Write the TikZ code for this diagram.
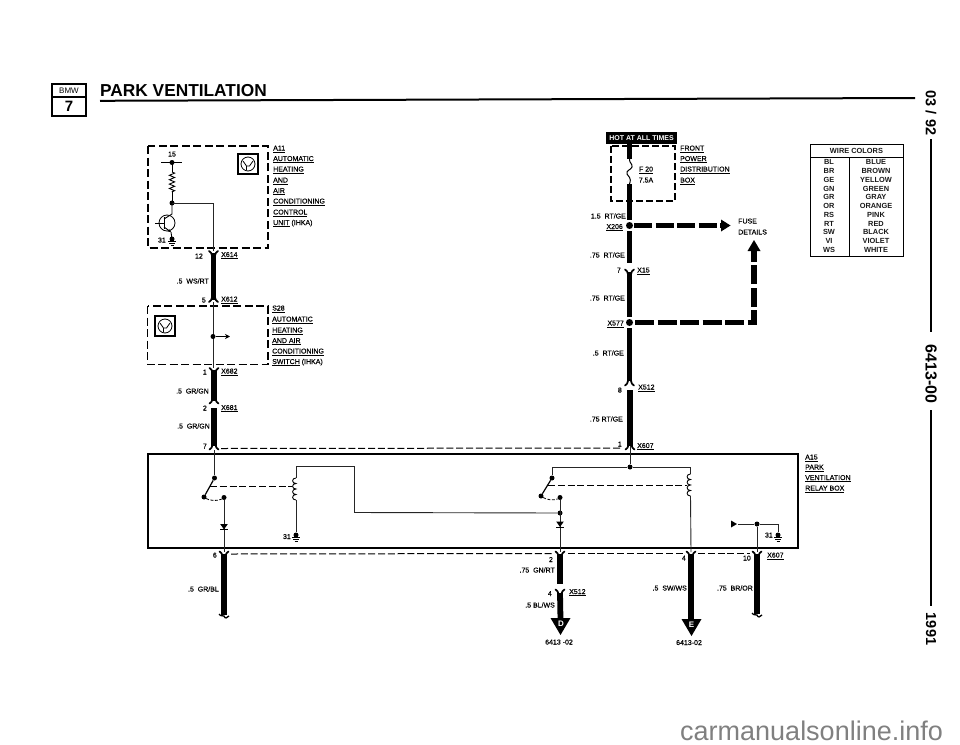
\documentclass[tikz,border=0pt]{standalone}
\usepackage{fontspec}
\setmainfont{Liberation Sans}
\newfontfamily\lblf[FakeBold=0.3]{Liberation Sans}
\usetikzlibrary{arrows.meta,decorations.pathmorphing}
\tikzset{
  wire/.style={line width=5.8pt,black},
  thin wire/.style={line width=0.9pt,black!85},
  bdash/.style={line width=1.7pt,dash pattern=on 8pt off 3.5pt,black},
  ldash/.style={line width=1pt,dash pattern=on 7pt off 2.8pt,black},
  fdash/.style={line width=5.8pt,dash pattern=on 19pt off 3.5pt,black},
  dotn/.style={circle,fill=black,inner sep=0pt,minimum size=#1},
  dotn/.default=5pt,
  lbl/.style={inner sep=0pt,font=\lblf\fontsize{7}{8}\selectfont,text=black},
  tbl/.style={inner sep=0pt,font=\fontsize{7.4}{8}\selectfont\bfseries,text=black!90},
  side/.style={inner sep=0pt,rotate=-90,font=\fontsize{#1}{#1}\selectfont\bfseries},
  forkd/.pic={\draw[line width=1.7pt,line cap=round] (-4.6,-1.6) .. controls (-3,-0.8) and (-1.6,0.8) .. (-1.2,4) (4.6,-1.6) .. controls (3,-0.8) and (1.6,0.8) .. (1.2,4);},
  forku/.pic={\draw[line width=1.7pt,line cap=round] (-4.6,1.6) .. controls (-3,0.8) and (-1.6,-0.8) .. (-1.2,-4) (4.6,1.6) .. controls (3,0.8) and (1.6,-0.8) .. (1.2,-4);},
  tailp/.pic={\draw[line width=1.3pt] (-5,-2) .. controls (-3,1) and (-1,-1) .. (0,0) .. controls (1,3) and (3,2) .. (5,0);},
  gnd/.pic={\draw[line width=0.8pt] (-4,0) -- (4,0) (-2.8,1.8) -- (2.8,1.8) (-1.5,3.5) -- (1.5,3.5);},
  hvac/.pic={\draw[line width=1.1pt] (-10,-10) rectangle (10,10);
    \draw[line width=0.8pt] (0,0) circle (7pt);
    \draw[line width=0.8pt] (-5,-3) -- (-1.5,2) -- (1.5,2) -- (5,-3) (-1.5,2) -- (-1.5,6);},
  coilp/.pic={\draw[line width=0.9pt] (0,0) .. controls (-4.5,0) and (-4.5,5.5) .. (0,5.5) .. controls (-4.5,5.5) and (-4.5,11) .. (0,11) .. controls (-4.5,11) and (-4.5,16.5) .. (0,16.5) .. controls (-4.5,16.5) and (-4.5,22) .. (0,22);},
  diodep/.pic={\fill (-3.8,-3) -- (3.8,-3) -- (0,2.5) -- cycle; \draw[line width=0.9pt] (-4,2.7) -- (4,2.7);},
  bigtri/.pic={\fill (-10,0) -- (10,0) -- (0,17) -- cycle;}
}
\newcommand\lab[4]{\node[lbl,anchor=base west] (#1) at (#2,#3+2.5) {#4};}
\newcommand\rlab[4]{\node[lbl,anchor=base east] (#1) at (#2,#3+2.5) {#4};}
\newcommand\clab[4]{\node[lbl,anchor=base] (#1) at (#2,#3+2.5) {#4};}
\begin{document}
\begin{tikzpicture}[x=1pt,y=-1pt]
\useasboundingbox (0,0) rectangle (960,744);

% ---------- header
\draw[line width=2.2pt] (52,84) rectangle (86,116);
\draw[line width=1.4pt] (52,97) -- (86,97);
\node[inner sep=0pt,font=\fontsize{8}{9}\selectfont] (bmw) at (69,91) {BMW};
\node[inner sep=0pt,font=\fontsize{15}{16}\selectfont\bfseries] (seven) at (69,106.5) {7};
\node[inner sep=0pt,anchor=base west,font=\fontsize{17.3}{18}\selectfont\bfseries] (title) at (100,96) {PARK VENTILATION};
\coordinate (hl) at (100,100.8);
\coordinate (hr) at (915,98);
\draw[line width=2pt] (hl) -- (hr);

% ---------- side margin
\node[side=14.5] (date) at (931,113) {03 / 92};
\node[side=16] (code) at (931,374) {6413-00};
\node[side=14.5] (year) at (931,629) {1991};
\coordinate (s1) at (931,139);
\coordinate (s2) at (931,332);
\coordinate (s3) at (931,410);
\coordinate (s4) at (931,606);
\draw[line width=2pt] (s1) -- (s2);
\draw[line width=2pt] (s3) -- (s4);

% ---------- A11
\coordinate (a11tl) at (148,146);
\coordinate (a11br) at (268,248);
\draw[bdash] (a11tl) rectangle (a11br);
\clab{n15}{172}{154}{15}
\coordinate (t1) at (161,162.5);
\coordinate (t2) at (182,162.5);
\coordinate (tc) at (172,162.5);
\coordinate (r1) at (172,172);
\coordinate (r2) at (172,192);
\coordinate (j1) at (172,203);
\coordinate (j1r) at (213.5,203);
\coordinate (x614) at (213.5,251);
\draw[line width=0.9pt] (t1) -- (t2);
\node[dotn] (d1) at (tc) {};
\draw[line width=0.9pt] (tc) -- (r1);
\draw[line width=0.9pt,decorate,decoration={zigzag,segment length=4.4pt,amplitude=2.6pt}] (r1) -- (r2);
\draw[line width=0.9pt] (r2) -- (j1);
\node[dotn] (d2) at (j1) {};
\draw[thin wire] (j1) -- (j1r) -- (x614);
\node[draw,circle,line width=0.8pt,inner sep=0pt,minimum size=16pt] (q1) at (167,223) {};
\coordinate (qa) at (164,219);
\coordinate (qb) at (164,227);
\coordinate (qg) at (172,239);
\draw[line width=0.9pt] (155,223) -- (164,223);
\draw[line width=1pt] (164,217) -- (164,229);
\draw[line width=0.9pt] (j1) -- (172,214) -- (qa);
\draw[line width=0.9pt,-{Stealth[length=3pt,width=3pt]}] (qb) -- (171,232);
\draw[line width=0.9pt] (171,232) -- (qg);
\node[dotn] (d3) at (qg) {};
\pic at (172,241.5) {gnd};
\rlab{n31a}{166}{240}{31}
\pic at (248,164) {hvac};
\lab{a11l}{273}{148}{\underline{A11}}
\lab{a11a}{273}{158.5}{\underline{AUTOMATIC}}
\lab{a11b}{273}{169}{\underline{HEATING}}
\lab{a11c}{273}{180}{\underline{AND}}
\lab{a11d}{273}{190.5}{\underline{AIR}}
\lab{a11e}{273}{201}{\underline{CONDITIONING}}
\lab{a11f}{273}{212}{\underline{CONTROL}}
\lab{a11g}{273}{222.5}{\underline{UNIT} (IHKA)}

% ---------- X614 / X612
\coordinate (w1a) at (213.5,253);
\coordinate (w1b) at (213.5,300);
\draw[wire] (w1a) -- (w1b);
\pic at (213.5,252.5) {forkd};
\pic at (213.5,300.5) {forku};
\rlab{n12}{203}{256}{12}
\lab{x614l}{221}{254.5}{\underline{X614}}
\rlab{wsrt}{209}{281}{.5\ \ WS/RT}
\rlab{n5}{206}{300}{5}
\lab{x612l}{221}{299}{\underline{X612}}

% ---------- S28
\coordinate (s28tl) at (147.5,306);
\coordinate (s28br) at (268,364.5);
\draw[bdash] (s28tl) rectangle (s28br);
\coordinate (sw1) at (213.5,302);
\coordinate (sw2) at (213.5,368);
\draw[thin wire] (sw1) -- (sw2);
\node[dotn] (d4) at (213,336.5) {};
\coordinate (swa) at (230,336.5);
\draw[line width=0.9pt,-{Stealth[length=5pt,width=5pt]}] (d4) -- (swa);
\pic at (165,326) {hvac};
\lab{s28l}{272}{308}{\underline{S28}}
\lab{s28a}{272}{319}{\underline{AUTOMATIC}}
\lab{s28b}{272}{330}{\underline{HEATING}}
\lab{s28c}{272}{340.5}{\underline{AND AIR}}
\lab{s28d}{272}{351}{\underline{CONDITIONING}}
\lab{s28e}{272}{361.5}{\underline{SWITCH} (IHKA)}

% ---------- X682 / X681
\coordinate (w2a) at (214,370);
\coordinate (w2b) at (214,401);
\coordinate (w3a) at (214,408);
\coordinate (w3b) at (214,446);
\draw[wire] (w2a) -- (w2b);
\draw[wire] (w3a) -- (w3b);
\pic at (214,369.5) {forkd};
\pic at (214,402) {forku};
\pic at (214,448) {forku};
\rlab{n1}{207}{372}{1}
\lab{x682l}{221}{371}{\underline{X682}}
\rlab{grgn1}{209}{391}{.5\ \ GR/GN}
\rlab{n2}{207}{408}{2}
\lab{x681l}{221}{407.5}{\underline{X681}}
\rlab{grgn2}{210}{426}{.5\ \ GR/GN}
\rlab{n7}{207}{446}{7}

% ---------- top dashed of A15
\coordinate (td1) at (221,448.5);
\coordinate (td2) at (622,448);
\draw[ldash] (td1) -- (td2);

% ---------- A15 box
\coordinate (a15tl) at (148,454);
\coordinate (a15br) at (798,548);
\draw[line width=1.5pt] (a15tl) rectangle (a15br);
\lab{a15l}{805}{457}{\underline{A15}}
\lab{a15a}{805}{467}{\underline{PARK}}
\lab{a15b}{805}{477.5}{\underline{VENTILATION}}
\lab{a15c}{805}{488}{\underline{RELAY BOX}}

% ---------- left relay
\coordinate (li) at (214.5,450);
\node[dotn] (lc1) at (214.5,478) {};
\node[dotn] (lc2) at (204,497) {};
\node[dotn] (lc3) at (224,497.5) {};
\draw[thin wire] (li) -- (lc1);
\draw[line width=1.2pt] (lc1) -- (lc2);
\draw[line width=0.8pt,dash pattern=on 3pt off 1.5pt] (lc2) .. controls (209,500.5) and (218,501.5) .. (lc3);
\coordinate (ld1) at (210,486);
\coordinate (ld2) at (292,486);
\draw[ldash] (ld1) -- (ld2);
\coordinate (lo) at (224,552);
\draw[thin wire] (lc3) -- (lo);
\pic at (224,527) {diodep};
\coordinate (lk0) at (296,466);
\coordinate (lk1) at (296,478);
\coordinate (lk2) at (296,500);
\coordinate (lk3) at (354,466);
\coordinate (lk4) at (354,512.5);
\node[dotn] (lg) at (296,535) {};
\draw[thin wire] (lk1) -- (lk0) -- (lk3) -- (lk4);
\pic at (296,478) {coilp};
\draw[thin wire] (lk2) -- (lg);
\pic at (296,537.5) {gnd};
\rlab{n31b}{291}{536.5}{31}

% ---------- right relay
\coordinate (ri) at (630,446);
\node[dotn] (rj) at (630,467) {};
\draw[thin wire] (ri) -- (rj);
\node[dotn] (rc1) at (552,478) {};
\node[dotn] (rc2) at (541,496) {};
\node[dotn] (rc3) at (560,497.5) {};
\node[dotn] (rj2) at (560,513) {};
\coordinate (rk0) at (690.5,467);
\coordinate (rk1) at (690.5,474);
\coordinate (rk2) at (690.5,496);
\coordinate (ro4) at (691,552);
\coordinate (ro2) at (560,552);
\draw[thin wire] (rc1) |- (rj);
\draw[thin wire] (rj) -- (rk0) -- (rk1);
\pic at (690.5,474) {coilp};
\draw[thin wire] (rk2) -- (ro4);
\draw[line width=1.2pt] (rc1) -- (rc2);
\draw[line width=0.8pt,dash pattern=on 3pt off 1.5pt] (rc2) .. controls (546,499.5) and (554,501) .. (rc3);
\coordinate (rd1) at (548,485);
\coordinate (rd2) at (687,485);
\draw[ldash] (rd1) -- (rd2);
\draw[thin wire] (rc3) -- (ro2);
\draw[thin wire] (lk4) -- (rj2);
\pic at (560,524.5) {diodep};

% ---------- right ground
\coordinate (ga) at (738,524);
\node[dotn] (gj) at (757,524) {};
\coordinate (gb) at (778,524);
\node[dotn] (gg) at (778,535) {};
\coordinate (go) at (757,552);
\fill (731,520.5) -- (737,524) -- (731,527.5) -- cycle;
\draw[thin wire] (ga) -- (gj) -- (gb) -- (gg);
\draw[thin wire] (gj) -- (go);
\pic at (778,537.5) {gnd};
\rlab{n31c}{773}{535}{31}

% ---------- bottom dashed
\coordinate (bd1) at (231,554);
\coordinate (bd2) at (553,553.5);
\coordinate (bd3) at (568,553.5);
\coordinate (bd4) at (684,553.5);
\coordinate (bd5) at (698,553.5);
\coordinate (bd6) at (750,553.5);
\draw[ldash] (bd1) -- (bd2);
\draw[ldash] (bd3) -- (bd4);
\draw[ldash] (bd5) -- (bd6);

% ---------- bottom wires
\coordinate (bw1a) at (224,554);
\coordinate (bw1b) at (224,615);
\draw[wire] (bw1a) -- (bw1b);
\pic at (224,553) {forkd};
\pic at (224,616) {tailp};
\rlab{n6}{217}{555}{6}
\rlab{grbl}{219}{589}{.5\ \ GR/BL}

\coordinate (bw2a) at (560,554);
\coordinate (bw2b) at (560,584);
\coordinate (bw2c) at (560,593);
\coordinate (bw2d) at (560.5,620);
\draw[wire] (bw2a) -- (bw2b);
\draw[wire] (bw2c) -- (bw2d);
\pic at (560,553) {forkd};
\pic at (560,591) {forkd};
\pic at (560.5,618) {bigtri};
\node[inner sep=0pt,text=white,font=\fontsize{8}{9}\selectfont\bfseries] (dl) at (561,624) {D};
\rlab{n2b}{553}{559.5}{2}
\rlab{gnrt}{555}{570}{.75\ \ GN/RT}
\rlab{n4b}{552}{593.5}{4}
\lab{x512b}{569}{591.5}{\underline{X512}}
\rlab{blws}{555}{605}{.5 BL/WS}
\clab{ref1}{559}{642}{6413 -02}

\coordinate (bw3a) at (691,554);
\coordinate (bw3b) at (691,622);
\draw[wire] (bw3a) -- (bw3b);
\pic at (691,553) {forkd};
\pic at (691.5,619) {bigtri};
\node[inner sep=0pt,text=white,font=\fontsize{8}{9}\selectfont\bfseries] (el) at (691.5,624.5) {E};
\rlab{n4c}{686}{558}{4}
\rlab{swws}{687}{588}{.5\ \ SW/WS}
\clab{ref2}{689}{642.5}{6413-02}

\coordinate (bw4a) at (757,554);
\coordinate (bw4b) at (757,614);
\draw[wire] (bw4a) -- (bw4b);
\pic at (757,553) {forkd};
\pic at (757,615) {tailp};
\rlab{n10}{751}{558}{10}
\rlab{brorl}{753}{588}{.75\ \ BR/OR}
\lab{x607b}{767}{555}{\underline{X607}}

% ---------- fuse column
\node[fill=black,text=white,inner sep=0pt,minimum width=71pt,minimum height=12pt,font=\fontsize{7}{8}\selectfont\bfseries] (hot) at (641.5,138) {HOT AT ALL TIMES};
\coordinate (fbtl) at (611,146);
\coordinate (fbbr) at (675,201);
\draw[bdash,line width=1.6pt,dash pattern=on 7pt off 3pt] (fbtl) rectangle (fbbr);
\coordinate (f0) at (629.5,144);
\coordinate (f1) at (629.5,159);
\coordinate (f2) at (629.5,184);
\coordinate (f3) at (629.5,220);
\node[dotn=7pt] (x206) at (629.5,225.5) {};
\coordinate (f4) at (629.5,231);
\coordinate (f5) at (629.5,263);
\coordinate (f6) at (629.5,272);
\coordinate (f7) at (629.5,317);
\node[dotn=7pt] (x577) at (629.5,322.5) {};
\coordinate (f8) at (629.5,328);
\coordinate (f9) at (629.5,381);
\coordinate (f10) at (630,390);
\coordinate (f11) at (630,446);
\draw[wire] (f0) -- (f1);
\draw[line width=1pt] (f1) .. controls (629,163) and (633,164) .. (632,167) .. controls (631,170) and (626,170) .. (627,174) .. controls (628,177) and (632,177) .. (f2);
\draw[wire] (f2) -- (f3);
\draw[wire] (f4) -- (f5);
\draw[wire] (f6) -- (f7);
\draw[wire] (f8) -- (f9);
\draw[wire] (f10) -- (f11);
\pic at (629.5,271) {forkd};
\pic at (629.5,384) {forku};
\pic at (630,448) {forku};
\coordinate (fa) at (634,225.5);
\coordinate (fah) at (724,225.5);
\draw[fdash,dash pattern=on 18pt off 3.5pt] (fa) -- (fah);
\fill (721,219.5) -- (730.5,225.5) -- (721,231.5) -- cycle;
\coordinate (fb) at (635,322.5);
\coordinate (fc) at (754,322.5);
\coordinate (fd) at (754,250);
\draw[fdash] (fb) -- (fc) -- (fd);
\fill (747.5,251) -- (754,240) -- (760.5,251) -- cycle;
\lab{fuse}{738}{221}{FUSE}
\lab{details}{738}{232}{DETAILS}
\clab{f20}{646}{169}{\underline{F 20}}
\clab{f75}{646}{180}{7.5A}
\lab{fp1}{680}{148}{\underline{FRONT}}
\lab{fp2}{680}{158.5}{\underline{POWER}}
\lab{fp3}{680}{169}{\underline{DISTRIBUTION}}
\lab{fp4}{680}{180}{\underline{BOX}}
\rlab{rg1}{626}{216}{1.5\ \ RT/GE}
\rlab{x206l}{623}{226.5}{\underline{X206}}
\rlab{rg2}{625}{255}{.75\ \ RT/GE}
\rlab{n7b}{621}{270}{7}
\lab{x15l}{637}{270}{\underline{X15}}
\rlab{rg3}{625}{298}{.75\ \ RT/GE}
\rlab{x577l}{624}{323}{\underline{X577}}
\rlab{rg4}{624}{353}{.5\ \ RT/GE}
\rlab{n8}{622}{390}{8}
\lab{x512a}{638}{387}{\underline{X512}}
\rlab{rg5}{623}{419}{.75 RT/GE}
\rlab{n1b}{622}{444}{1}
\lab{x607a}{637}{445.5}{\underline{X607}}

% ---------- wire colour table
\coordinate (ct1) at (810,144);
\coordinate (ct2) at (903,256);
\coordinate (ct3) at (810,157);
\coordinate (ct4) at (903,157);
\coordinate (ct5) at (849,157);
\coordinate (ct6) at (849,256);
\draw[line width=0.9pt] (ct1) rectangle (ct2);
\draw[line width=0.9pt] (ct3) -- (ct4);
\draw[line width=0.9pt] (ct5) -- (ct6);
\node[tbl,anchor=base] (cth) at (856.5,153) {WIRE COLORS};
\foreach \i/\a/\b in {0/BL/BLUE,1/BR/BROWN,2/GE/YELLOW,3/GN/GREEN,4/GR/GRAY,5/OR/ORANGE,6/RS/PINK,7/RT/RED,8/SW/BLACK,9/VI/VIOLET,10/WS/WHITE}{
  \node[tbl,anchor=base] (ca\i) at (829,{164.8+8.77*\i}) {\a};
  \node[tbl,anchor=base] (cb\i) at (876,{164.8+8.77*\i}) {\b};
}

% ---------- watermark
\node[inner sep=0pt,anchor=base west,text=black!50,font=\fontsize{27}{28}\selectfont] (wm) at (680,740) {carmanualsonline.info};
\end{tikzpicture}
\end{document}
